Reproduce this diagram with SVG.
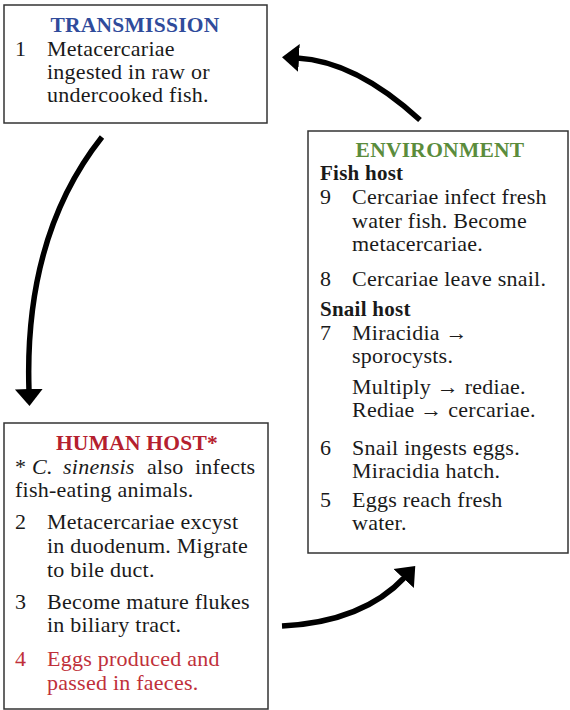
<svg xmlns="http://www.w3.org/2000/svg" width="570" height="710" viewBox="0 0 570 710">
<style>
  text { font-family: "Liberation Serif", "Times New Roman", serif; font-size: 22px; letter-spacing: 0.25px; fill: #1a1a1a; }
  .title { font-weight: bold; text-anchor: middle; font-size: 21.5px; }
  .blue { fill: #2f4b9b; }
  .green { fill: #5b8c3c; }
  .red { fill: #b5202e; }
  .redtxt { fill: #c0303a; }
  .sub { font-weight: bold; font-size: 21px; }
  .it { font-style: italic; }
  .box { fill: #ffffff; stroke: #333333; stroke-width: 1.5; }
  .conn { fill: none; stroke: #000000; stroke-width: 5.5; }
</style>
<defs>
  <marker id="head" markerUnits="userSpaceOnUse" viewBox="0 0 18 30" markerWidth="18" markerHeight="30" refX="2" refY="15" orient="auto">
    <path d="M0,1 L17,15 L0,29 Z" fill="#000000"/>
  </marker>
</defs>
<rect width="570" height="710" fill="#ffffff"/>

<g id="transmission">
  <rect class="box" x="4" y="5" width="263" height="118"/>
  <text class="title blue" x="135" y="32">TRANSMISSION</text>
  <text x="15" y="56">1</text>
  <text x="47" y="56">Metacercariae</text>
  <text x="47" y="79">ingested in raw or</text>
  <text x="47" y="102">undercooked fish.</text>
</g>

<g id="environment">
  <rect class="box" x="308" y="131" width="260" height="422"/>
  <text class="title green" x="440" y="157">ENVIRONMENT</text>
  <text class="sub" x="320" y="180">Fish host</text>
  <text x="320" y="204">9</text>
  <text x="352" y="204">Cercariae infect fresh</text>
  <text x="352" y="228">water fish. Become</text>
  <text x="352" y="251">metacercariae.</text>
  <text x="320" y="286">8</text>
  <text x="352" y="286">Cercariae leave snail.</text>
  <text class="sub" x="320" y="316">Snail host</text>
  <text x="320" y="340">7</text>
  <text x="352" y="340">Miracidia →</text>
  <text x="352" y="363">sporocysts.</text>
  <text x="352" y="394">Multiply → rediae.</text>
  <text x="352" y="417">Rediae → cercariae.</text>
  <text x="320" y="455">6</text>
  <text x="352" y="455">Snail ingests eggs.</text>
  <text x="352" y="478">Miracidia hatch.</text>
  <text x="320" y="507">5</text>
  <text x="352" y="507">Eggs reach fresh</text>
  <text x="352" y="530">water.</text>
</g>

<g id="human-host">
  <rect class="box" x="4" y="423" width="264" height="286"/>
  <text class="title red" x="137" y="450">HUMAN HOST*</text>
  <text x="15" y="474">*</text>
  <text class="it" x="32" y="474">C.</text>
  <text class="it" x="63" y="474">sinensis</text>
  <text x="147" y="474">also</text>
  <text x="195" y="474">infects</text>
  <text x="15" y="497">fish-eating animals.</text>
  <text x="15" y="529">2</text>
  <text x="47" y="529">Metacercariae excyst</text>
  <text x="47" y="553">in duodenum. Migrate</text>
  <text x="47" y="577">to bile duct.</text>
  <text x="15" y="609">3</text>
  <text x="47" y="609">Become mature flukes</text>
  <text x="47" y="632">in biliary tract.</text>
  <text class="redtxt" x="15" y="666">4</text>
  <text class="redtxt" x="47" y="666">Eggs produced and</text>
  <text class="redtxt" x="47" y="690">passed in faeces.</text>
</g>

<g id="connectors">
  <path class="conn" d="M420,120 Q355.5,61 297,58" marker-end="url(#head)"/>
  <path class="conn" d="M102,137 C60,190 25,270 29,391" marker-end="url(#head)"/>
  <path class="conn" d="M282,626 Q363,622 405,577" marker-end="url(#head)"/>
</g>
</svg>
